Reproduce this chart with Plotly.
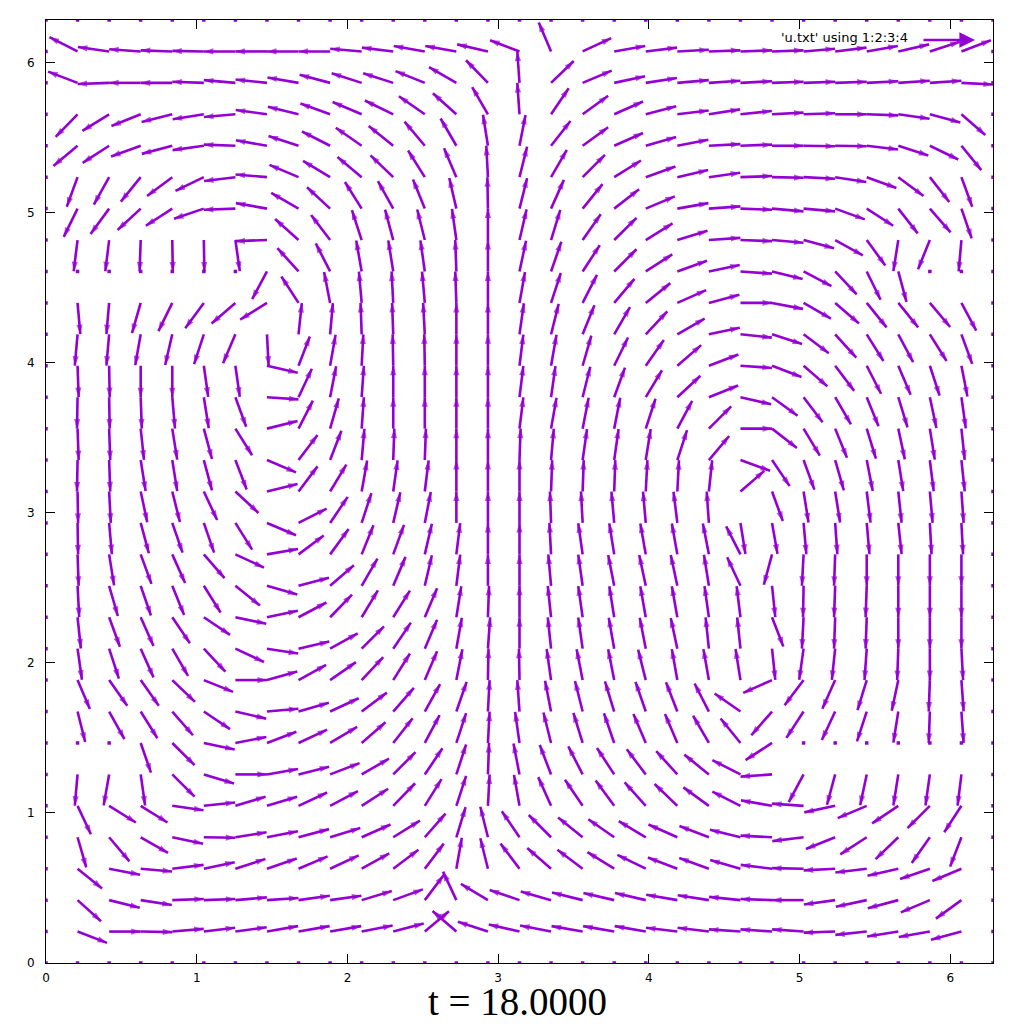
import math
import plotly.graph_objects as go

# grid coordinates (same for x and y), 31 nodes on [0, 2*pi]
grid = [0.0, 0.2094, 0.4189, 0.6283, 0.8378, 1.0472, 1.2566, 1.4661, 1.6755, 1.885,
        2.0944, 2.3038, 2.5133, 2.7227, 2.9322, 3.1416, 3.351, 3.5605, 3.7699, 3.9794,
        4.1888, 4.3982, 4.6077, 4.8171, 5.0265, 5.236, 5.4454, 5.6549, 5.8643, 6.0737, 6.2832]
arrow_len = 0.2094      # every plotted vector has been normalised to this length
N = None                # zero vector (drawn as a dot)

# direction of the velocity (degrees, counter-clockwise from +x) at interior nodes i=1..29, row by row
d29 = [153,172,176,178,179,180,180,180,180,175,173,170,170,167,159,113,25,10,7,3,2,2,2,5,7,10,13,18,21]
d28 = [159,182,180,180,178,175,174,170,165,162,162,158,150,134,94,44,23,12,9,5,4,3,2,2,2,3,4,4,357]
d27 = [226,212,202,194,189,185,172,166,160,157,154,145,138,120,94,56,36,24,15,7,9,6,3,2,0,358,352,345,319]
d26 = [220,213,200,195,188,178,170,162,153,145,141,130,120,99,79,52,36,24,16,11,3,2,0,359,359,353,342,334,309]
d25 = [250,241,231,217,206,187,175,157,149,140,136,122,113,93,76,60,45,32,20,13,8,2,359,357,351,340,323,308,290]
d24 = [244,234,223,213,199,182,170,150,137,122,119,112,103,91,76,66,51,38,23,10,4,358,355,355,340,327,308,311,289]
d23 = [263,263,268,271,271,278,182,138,127,108,105,104,98,90,77,73,55,45,32,17,4,358,355,345,331,306,261,248,265]
d22 = [N,N,N,N,N,N,242,132,117,100,99,98,92,90,78,71,57,45,33,20,12,356,346,332,313,296,285,N,N]
d21 = [275,265,254,244,234,221,212,123,101,95,93,95,92,90,80,72,63,50,39,24,15,0,349,330,319,309,309,310,298]
d20 = [265,265,260,257,252,247,273,84,85,92,92,93,90,90,82,76,68,60,47,30,12,354,342,323,312,302,298,302,290]
d19 = [272,271,270,270,278,278,347,69,80,87,91,91,90,90,83,80,74,64,55,41,21,356,339,319,307,297,293,288,281]
d18 = [269,271,272,275,279,290,356,65,79,86,90,90,90,90,83,82,76,70,59,43,22,347,324,307,300,292,287,282,278]
d17 = [272,272,276,279,285,302,14,63,74,86,90,90,90,90,83,80,79,79,72,62,45,0,322,301,292,287,282,279,276]
d16 = [269,272,279,279,285,291,337,53,69,85,88,88,90,90,88,85,82,82,81,72,50,340,304,290,286,281,279,277,276]
d15 = [271,273,282,284,295,317,14,53,59,80,82,83,90,90,90,88,88,88,87,87,84,41,290,279,279,277,276,275,274]
d14 = [271,275,285,289,289,302,337,27,56,72,77,79,90,90,90,92,93,95,95,97,94,279,280,275,274,275,276,273,273]
d13 = [272,279,290,294,311,335,10,37,54,68,70,77,83,90,90,93,98,99,100,100,101,117,255,267,268,270,270,270,270]
d12 = [273,286,289,292,302,321,344,15,41,60,67,77,83,90,90,95,98,101,102,102,99,115,276,269,268,268,270,270,270]
d11 = [276,290,294,304,326,348,12,28,46,59,58,67,81,88,90,96,98,99,100,100,98,97,291,267,268,268,270,270,270]
d10 = [278,288,294,300,313,335,351,13,29,45,56,67,80,86,90,96,98,100,101,102,96,96,276,262,264,266,268,270,273]
d09 = [293,305,305,316,338,0,16,29,35,47,58,67,79,89,91,98,101,101,104,100,100,99,204,233,246,253,258,268,274]
d08 = [284,299,302,311,326,347,5,16,25,37,49,61,71,87,94,101,104,107,109,111,117,145,229,237,245,252,261,268,274]
d07 = [N,N,289,315,348,11,21,25,31,41,52,62,72,87,98,104,107,109,113,113,120,129,213,N,N,N,N,N,N]
d06 = [265,260,278,315,343,0,10,14,21,30,45,56,72,88,101,111,117,123,127,132,141,153,184,242,255,258,261,262,263]
d05 = [295,328,328,352,6,17,17,25,28,33,46,58,72,87,100,114,124,126,132,136,144,153,170,176,192,203,214,225,237]
d04 = [286,310,330,348,359,9,11,15,17,24,32,49,73,104,124,135,141,145,149,156,159,166,177,187,202,213,224,235,249]
d03 = [321,349,355,7,12,18,19,23,25,29,37,53,80,104,127,139,143,148,154,159,160,164,173,179,183,187,193,199,203]
d02 = [318,346,351,2,2,5,4,8,8,17,20,53,115,149,161,164,166,167,167,170,171,174,178,180,188,192,195,203,216]
d01 = [339,0,359,5,7,8,10,10,10,11,15,40,139,162,167,169,170,170,170,173,173,176,176,176,182,186,189,190,195]

interior = [d01, d02, d03, d04, d05, d06, d07, d08, d09, d10, d11, d12, d13, d14, d15,
            d16, d17, d18, d19, d20, d21, d22, d23, d24, d25, d26, d27, d28, d29]
n = len(grid)
rows = [[N] * n] + [[N] + r + [N] for r in interior] + [[N] * n]

PURPLE = "#9400D3"
W, H = 1024, 1024
ML, MR, MT, MB = 46, 31, 20, 61
XMAX = 6.2832
px_x = (W - ML - MR) / XMAX
px_y = (H - MT - MB) / XMAX

sx, sy, sizes, angs = [], [], [], []
zx, zy = [], []
for j, row in enumerate(rows):
    for i, a in enumerate(row):
        x0, y0 = grid[i], grid[j]
        if a is None:
            zx.append(x0)
            zy.append(y0)
            continue
        t = math.radians(a)
        dx, dy = arrow_len * math.cos(t), arrow_len * math.sin(t)
        scr = math.degrees(math.atan2(dy * px_y, dx * px_x))
        sx += [x0, x0 + dx, None]
        sy += [y0, y0 + dy, None]
        sizes += [0, 10, 0]
        angs += [0, 90 - scr, 0]

fig = go.Figure()
fig.add_trace(go.Scatter(
    x=zx, y=zy, mode="markers",
    marker=dict(symbol="square", size=3.5, color=PURPLE, line=dict(width=0)),
    hoverinfo="skip", showlegend=False))
fig.add_trace(go.Scatter(
    x=sx, y=sy, mode="lines+markers",
    line=dict(color=PURPLE, width=2.6),
    marker=dict(symbol="arrow", size=sizes, angle=angs, color=PURPLE, line=dict(width=0)),
    hoverinfo="skip", showlegend=False))

axis = dict(range=[0, XMAX], tickvals=[0, 1, 2, 3, 4, 5, 6], ticks="inside", ticklen=9,
            tickwidth=1, tickcolor="black", showline=True, linecolor="black", linewidth=1,
            mirror="ticks", showgrid=False, zeroline=False,
            tickfont=dict(family="DejaVu Sans", size=12, color="black"))

fig.update_layout(
    width=W, height=H, margin=dict(l=ML, r=MR, t=MT, b=MB, pad=0),
    paper_bgcolor="white", plot_bgcolor="white",
    xaxis=dict(axis, ticklabelstandoff=4),
    yaxis=dict(axis, ticklabelstandoff=8),
    annotations=[
        dict(text="'u.txt' using 1:2:3:4", xref="paper", yref="paper",
             x=(910 - ML) / (W - ML - MR), y=(H - MB - 38) / (H - MT - MB),
             xanchor="right", yanchor="middle", showarrow=False,
             font=dict(family="DejaVu Sans", size=13, color="black")),
        dict(text="", xref="paper", yref="paper",
             x=(975 - ML) / (W - ML - MR), y=(H - MB - 40) / (H - MT - MB),
             ax=-53, ay=0, showarrow=True, arrowhead=2, arrowsize=1.2,
             arrowwidth=2.6, arrowcolor=PURPLE),
        dict(text="t = 18.0000", xref="paper", yref="paper",
             x=(517 - ML) / (W - ML - MR), y=(H - MB - 1001) / (H - MT - MB),
             xanchor="center", yanchor="middle", showarrow=False,
             font=dict(family="Liberation Serif", size=39, color="black")),
    ],
)

fig.write_html("out.html")
